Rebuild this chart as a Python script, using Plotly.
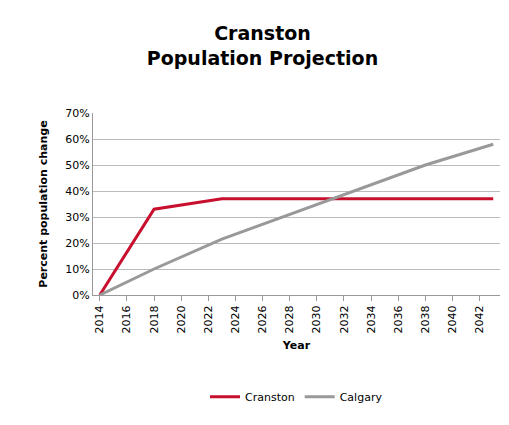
import plotly.graph_objects as go

years = [2014, 2018, 2023, 2028, 2033, 2038, 2043]
cranston = [0, 33, 37, 37, 37, 37, 37]
calgary = [0, 10, 21.5, 31, 40.5, 50, 58]
xticks = list(range(2014, 2043, 2))
yticks = list(range(0, 71, 10))
ylabels = [f"{v}%" for v in yticks]

fig = go.Figure()
fig.add_trace(go.Scatter(x=years, y=cranston, name="Cranston", mode="lines",
                         line=dict(color="#c8102e", width=3)))
fig.add_trace(go.Scatter(x=years, y=calgary, name="Calgary", mode="lines",
                         line=dict(color="#999999", width=3)))
fig.update_layout(
    width=509, height=425, plot_bgcolor="white", paper_bgcolor="white",
    font=dict(family="DejaVu Sans", size=11, color="black"),
    title=dict(text="<b>Cranston<br>Population Projection</b>", x=0.5, xanchor="center",
               y=0.925, yanchor="top", font=dict(size=19, family="DejaVu Sans")),
    margin=dict(l=85, r=17, t=105, b=138),
    showlegend=True,
    legend=dict(orientation="h", x=0.5, xanchor="center", y=-0.48, yanchor="top",
                font=dict(size=11)),
    xaxis=dict(range=[2013.5, 2043.5], tickvals=xticks, tickangle=-90, showgrid=False,
               showline=True, linecolor="#999", ticks="outside", tickcolor="#999",
               automargin=False,
               title=dict(text="<b>Year</b>", font=dict(size=11), standoff=8),
               tickfont=dict(size=11)),
    yaxis=dict(range=[0, 70], tickvals=yticks, ticktext=ylabels, showgrid=True,
               gridcolor="#bbbbbb", showline=True, linecolor="#999", zeroline=False,
               automargin=False,
               title=dict(text="<b>Percent population change</b>", font=dict(size=11)),
               tickfont=dict(size=11)),
)
fig.write_html("out.html")
